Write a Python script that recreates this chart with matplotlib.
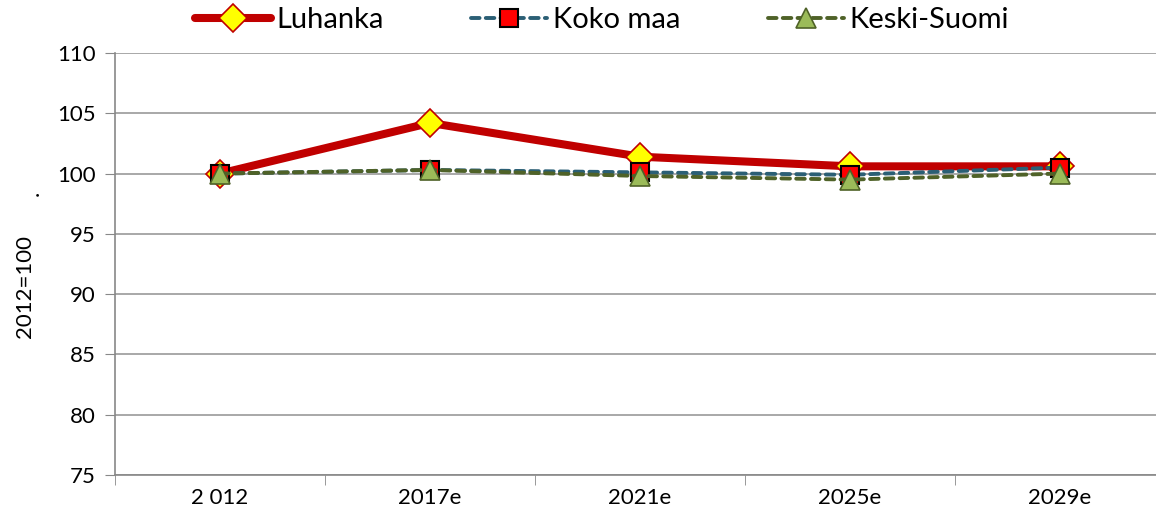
import matplotlib
matplotlib.use("Agg")
import matplotlib.pyplot as plt

categories = ["2 012", "2017e", "2021e", "2025e", "2029e"]
luhanka = [100.0, 104.2, 101.4, 100.6, 100.6]
koko_maa = [100.0, 100.3, 100.1, 99.9, 100.5]
keski_suomi = [100.0, 100.3, 99.8, 99.5, 100.0]
y_ticks = [75, 80, 85, 90, 95, 100, 105, 110]

plt.rcParams['font.family'] = ['Lato', 'DejaVu Sans']

W, H = 1156, 522
fig = plt.figure(figsize=(W / 100, H / 100), dpi=100)
left, right, top, bottom = 115, 1165, 53, 475
ax = fig.add_axes([left / W, 1 - bottom / H, (right - left) / W, (bottom - top) / H])

x = list(range(len(categories)))
ax.plot(x, luhanka, color="#C00000", lw=5.8, marker="D", ms=14,
        mfc="#FFFF00", mec="#C00000", mew=1.2, label="Luhanka", zorder=3,
        solid_capstyle="round")
ax.plot(x, koko_maa, color="#2B5F75", lw=2.8, ls=(0, (2.2, 1.6)), marker="s", ms=13,
        mfc="#FF0000", mec="#000000", mew=1.5, label="Koko maa", zorder=4,
        dash_capstyle="round")
ax.plot(x, keski_suomi, color="#4F6228", lw=2.8, ls=(0, (2.2, 1.6)), marker="^", ms=15,
        mfc="#9BBB59", mec="#4F6228", mew=1.2, label="Keski-Suomi", zorder=5,
        dash_capstyle="round")

ax.set_xlim(-0.5, len(categories) - 0.5)
ax.set_ylim(75, 110)
ax.set_yticks(y_ticks)
ax.set_xticks(x)
ax.set_xticklabels(categories)
ax.set_xticks([i + 0.5 for i in range(-1, len(categories))], minor=True)
ax.tick_params(axis="x", which="major", length=0, pad=9, labelsize=16)
ax.tick_params(axis="x", which="minor", length=7, color="#888888", direction="out")
ax.tick_params(axis="y", length=7, color="#888888", direction="out", labelsize=16, pad=7)

ax.grid(axis="y", color="#999999", lw=1.2)
ax.set_axisbelow(True)
for s in ["top", "right"]:
    ax.spines[s].set_visible(False)
for s in ["left", "bottom"]:
    ax.spines[s].set_color("#888888")
    ax.spines[s].set_linewidth(1.2)

fig.text(25 / W, 1 - 286 / H, "2012=100", rotation=90, ha="center", va="center", fontsize=16)
fig.text(33 / W, 1 - 193 / H, ".", rotation=90, ha="center", va="center", fontsize=16)

leg = fig.legend(loc="center", bbox_to_anchor=(602 / W, 1 - 20 / H), ncol=3, frameon=False,
                 fontsize=21, handlelength=2.6, columnspacing=3.0, handletextpad=0.2)

fig.savefig("out.png", dpi=100)
